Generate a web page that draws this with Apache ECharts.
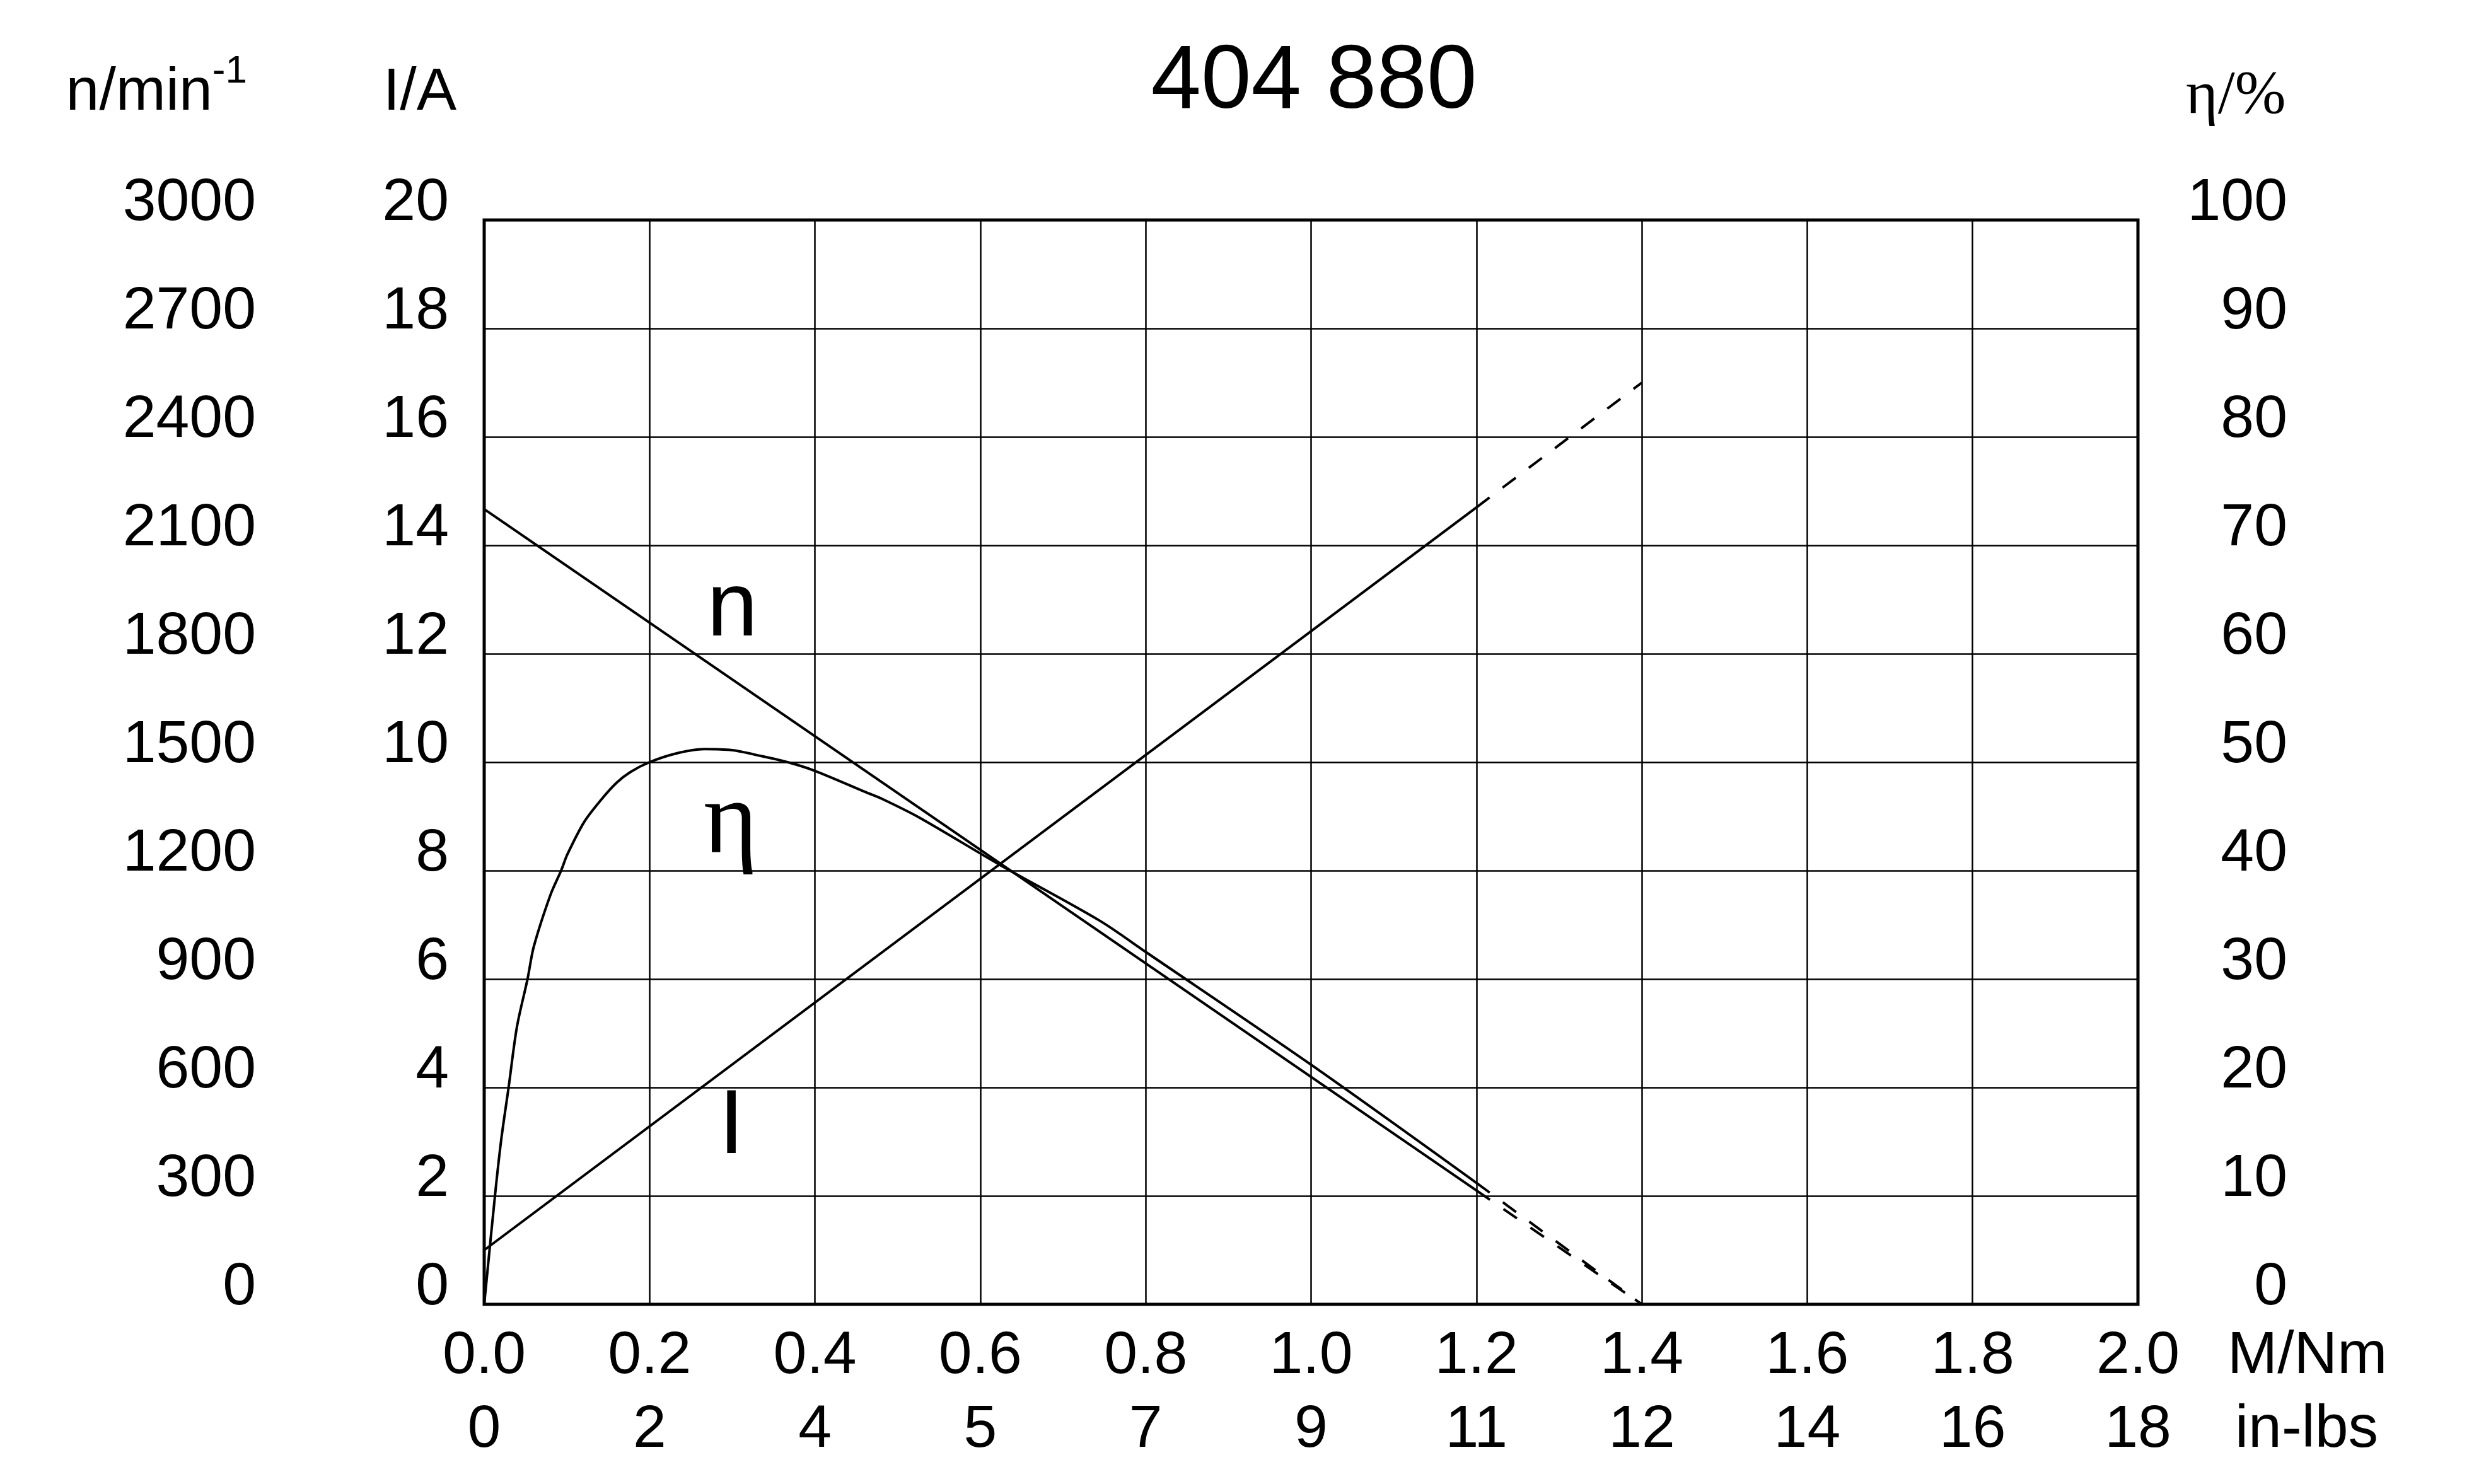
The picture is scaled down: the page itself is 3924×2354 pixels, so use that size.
<!DOCTYPE html>
<html>
<head>
<meta charset="utf-8">
<script src="https://cdn.jsdelivr.net/npm/echarts@6/dist/echarts.min.js"></script>
<style>html,body{margin:0;padding:0;background:#fff}#c{width:3924px;height:2354px}</style>
</head>
<body>
<div id="c"></div>
<script>
// ---- data ----
const titleText = '404 880';
const nmTicks = ['0.0','0.2','0.4','0.6','0.8','1.0','1.2','1.4','1.6','1.8','2.0'];
const inLbsTicks = ['0','2','4','5','7','9','11','12','14','16','18'];
const nTicks = ['0','300','600','900','1200','1500','1800','2100','2400','2700','3000'];
const iTicks = ['0','2','4','6','8','10','12','14','16','18','20'];
const etaTicks = ['0','10','20','30','40','50','60','70','80','90','100'];

// speed n (1/min) vs torque M (Nm)
const speedSolid = [[0, 2200], [1.2, 315]];
const speedDashed = [[1.2, 315], [1.4, 0]];
// current I (A)
const currentSolid = [[0, 1.0], [1.2, 14.7]];
const currentDashed = [[1.2, 14.7], [1.4, 17.0]];
// efficiency eta (%)
const etaSolid = [[0, 0], [0.013, 10], [0.0206, 15.2], [0.0295, 20], [0.0396, 25.6], [0.0524, 30],
  [0.06, 33], [0.0803, 37.8], [0.093, 40], [0.1006, 41.5], [0.121, 44.5], [0.141, 46.5],
  [0.16, 48.1], [0.177, 49.1], [0.2, 50], [0.232, 50.8], [0.266, 51.2], [0.3, 51.1],
  [0.333, 50.6], [0.367, 50], [0.4, 49.2], [0.4625, 47.2], [0.4816, 46.6], [0.526, 44.9],
  [0.622, 40.6], [0.744, 35.4], [0.8, 32.5], [1.0, 22.1], [1.2, 11.2]];
const etaDashed = [[1.2, 11.2], [1.4, 0]];

// curve annotation labels [M, value]
const nLabelAt = [0.30, 1921];
const etaLabelAt = [0.298, 44.2];
const iLabelAt = [0.299, 3.25];

// ---- chart ----
const SANS = 'Liberation Sans';
const SERIF = 'Liberation Serif';
const chart = echarts.init(document.getElementById('c'), null, {renderer: 'canvas'});
const xl = {fontFamily: SANS, fontSize: 95, color: '#000', lineHeight: 95};
const yl = {fontFamily: SANS, fontSize: 95, color: '#000', lineHeight: 52, verticalAlign: 'bottom', align: 'right'};
const line = {color: '#000', width: 4};
const dash = {color: '#000', width: 4, type: [26, 26]};
const grid = {color: '#000', width: 2.5};

function mp(txt, at, font, size) {
  return {
    symbol: 'circle', symbolSize: 1, itemStyle: {color: 'rgba(0,0,0,0)'},
    label: {show: true, position: 'inside', formatter: txt, fontFamily: font, fontSize: size, color: '#000'},
    data: [{coord: at}]
  };
}

chart.setOption({
  animation: false,
  backgroundColor: '#fff',
  title: {
    text: titleText, left: 2079, top: 55, textAlign: 'center',
    textStyle: {fontFamily: SANS, fontSize: 143, fontWeight: 'normal', color: '#000', lineHeight: 143}
  },
  grid: {left: 768, top: 349, right: 533, bottom: 285, show: true, borderColor: '#000', borderWidth: 5,
    backgroundColor: 'transparent', containLabel: false, outerBoundsMode: 'none'},
  xAxis: [{
    type: 'value', min: 0, max: 2, interval: 0.2, position: 'bottom',
    axisLine: {show: false}, axisTick: {show: false},
    splitLine: {show: true, lineStyle: grid},
    axisLabel: Object.assign({margin: 35, formatter: v => nmTicks[Math.round(v / 0.2)]}, xl),
    name: 'M/Nm', nameLocation: 'end', nameGap: 142, nameMoveOverlap: false,
    nameTextStyle: {fontFamily: SANS, fontSize: 95, color: '#000', lineHeight: 166, align: 'left', verticalAlign: 'top'}
  }, {
    type: 'value', min: 0, max: 2, interval: 0.2, position: 'bottom', offset: 117,
    axisLine: {show: false}, axisTick: {show: false}, splitLine: {show: false},
    axisLabel: Object.assign({margin: 35, formatter: v => inLbsTicks[Math.round(v / 0.2)]}, xl),
    name: 'in-lbs', nameLocation: 'end', nameGap: 154, nameMoveOverlap: false,
    nameTextStyle: {fontFamily: SANS, fontSize: 95, color: '#000', lineHeight: 400, align: 'left', verticalAlign: 'top'}
  }],
  yAxis: [{
    type: 'value', min: 0, max: 3000, interval: 300, position: 'left', offset: 354,
    axisLine: {show: false}, axisTick: {show: false}, splitLine: {show: false},
    axisLabel: Object.assign({margin: 8, formatter: v => nTicks[Math.round(v / 300)]}, yl),
    name: '{a|n/min}{b|-1}', nameLocation: 'end', nameGap: 136, nameMoveOverlap: false,
    nameTextStyle: {align: 'right', verticalAlign: 'bottom', padding: [0, 376, 0, 0],
      rich: {a: {fontFamily: SANS, fontSize: 95, color: '#000', lineHeight: 130},
             b: {fontFamily: SANS, fontSize: 62, color: '#000', lineHeight: 62, verticalAlign: 'top'}}}
  }, {
    type: 'value', min: 0, max: 20, interval: 2, position: 'left', offset: 0,
    axisLine: {show: false}, axisTick: {show: false},
    splitLine: {show: true, lineStyle: grid},
    axisLabel: Object.assign({margin: 56, formatter: v => iTicks[Math.round(v / 2)]}, yl),
    name: 'I/A', nameLocation: 'end', nameGap: 136, nameMoveOverlap: false,
    nameTextStyle: {fontFamily: SANS, fontSize: 95, color: '#000', lineHeight: 130, align: 'right', verticalAlign: 'bottom', padding: [0, 44, 0, 0]}
  }, {
    type: 'value', min: 0, max: 100, interval: 10, position: 'right', offset: 0,
    axisLine: {show: false}, axisTick: {show: false}, splitLine: {show: false},
    axisLabel: Object.assign({margin: 237, formatter: v => etaTicks[Math.round(v / 10)]}, yl),
    name: 'η/%', nameLocation: 'end', nameGap: 130, nameMoveOverlap: false,
    nameTextStyle: {fontFamily: SERIF, fontSize: 97, color: '#000', lineHeight: 130, align: 'left', verticalAlign: 'bottom', padding: [0, 0, 0, 76]}
  }],
  series: [
    {type: 'line', xAxisIndex: 0, yAxisIndex: 0, data: speedSolid, symbol: 'none', lineStyle: line, z: 5,
      markPoint: mp('n', nLabelAt, SANS, 145)},
    {type: 'line', xAxisIndex: 0, yAxisIndex: 0, data: speedDashed, symbol: 'none', lineStyle: dash, z: 5},
    {type: 'line', xAxisIndex: 0, yAxisIndex: 1, data: currentSolid, symbol: 'none', lineStyle: line, z: 5,
      markPoint: mp('I', iLabelAt, SANS, 145)},
    {type: 'line', xAxisIndex: 0, yAxisIndex: 1, data: currentDashed, symbol: 'none', lineStyle: dash, z: 5},
    {type: 'line', xAxisIndex: 0, yAxisIndex: 2, data: etaSolid, symbol: 'none', smooth: 0.3, lineStyle: line, z: 5,
      markPoint: mp('η', etaLabelAt, SERIF, 165)},
    {type: 'line', xAxisIndex: 0, yAxisIndex: 2, data: etaDashed, symbol: 'none', lineStyle: dash, z: 5}
  ]
});
</script>
</body>
</html>
